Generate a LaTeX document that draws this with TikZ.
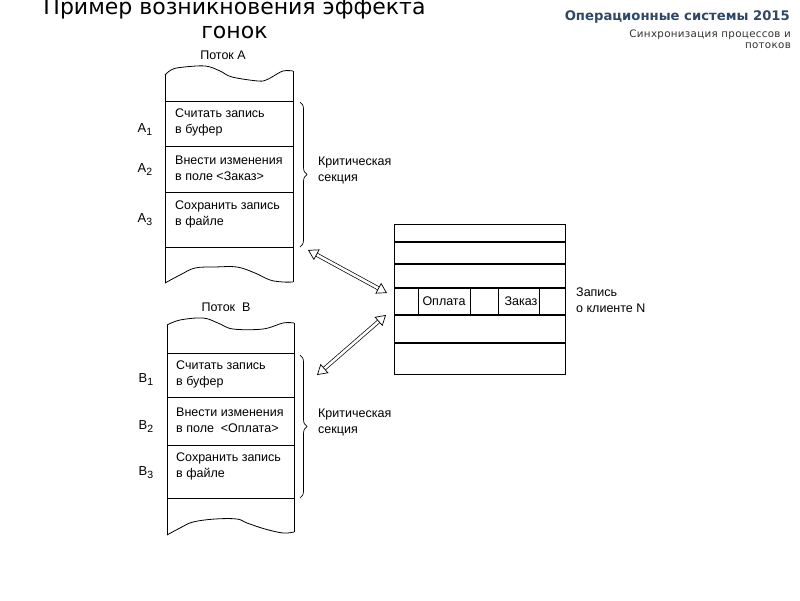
\documentclass[tikz,border=0pt]{standalone}
\usepackage{fontspec}
\setmainfont{Liberation Sans}
\newfontfamily\dejavu{DejaVu Sans}
\newfontfamily\dejavuls[LetterSpace=3]{DejaVu Sans}
\usetikzlibrary{arrows.meta,decorations.pathreplacing}
\definecolor{hdrblue}{RGB}{47,72,102}
\definecolor{hdrgray}{RGB}{50,50,50}
\begin{document}
\begin{tikzpicture}[x=1pt,y=-1pt,
  cell/.style={font=\fontsize{12.5}{16}\selectfont, align=left, anchor=west, inner sep=0pt},
  lbl/.style={font=\fontsize{13}{14}\selectfont, inner sep=0pt},
  captxt/.style={font=\fontsize{12.5}{13}\selectfont, inner sep=0pt},
  frame/.style={line width=0.8pt},
  brc/.style={decorate, decoration={brace, amplitude=7pt}, line width=0.7pt},
  dbl/.style={double, double distance=2.6pt, line width=0.7pt,
    {Triangle[open,length=10pt,width=12pt]}-{Triangle[open,length=10pt,width=12pt]}}
]
\path[use as bounding box] (0,0) rectangle (800,600);
\fill[white] (0,0) rectangle (800,600);

% Title and header
\node[font=\dejavu\fontsize{22}{24}\selectfont, anchor=base, inner sep=0pt] (t1) at (234.5,14) {Пример возникновения эффекта};
\node[font=\dejavu\fontsize{22}{24}\selectfont, anchor=base, inner sep=0pt] (t2) at (234.5,38) {гонок};
\node[font=\dejavu\bfseries\fontsize{13.2}{16}\selectfont, text=hdrblue, anchor=base east, inner sep=0pt] (h1) at (790,20) {Операционные системы 2015};
\node[font=\dejavuls\fontsize{10.3}{11}\selectfont, text=hdrgray, anchor=base east, inner sep=0pt] (h2) at (791,37) {Синхронизация процессов и};
\node[font=\dejavuls\fontsize{10.3}{11}\selectfont, text=hdrgray, anchor=base east, inner sep=0pt] (h3) at (791,48) {потоков};

% Thread A
\node[captxt] (pa) at (223,55) {Поток А};
\draw[frame] (165,283) -- (165,75);
\draw[frame] (293,71) -- (293,282);
\draw[frame] plot[smooth, tension=0.6] coordinates {(165,75)(171,70)(180,67.5)(205,66)(220,71)(232,77)(258,81)(266,80)(272,77)(283,71)(293,71)};
\draw[frame] plot[smooth, tension=0.6] coordinates {(165,283)(180,275)(195,268)(215,267)(237,267)(255,273)(270,280)(283,282)(293,282)};
\foreach \yy in {101,146,192,247} \draw[frame] (165,\yy) -- (293,\yy);
\node[cell] (ca1) at (175,122) {Считать запись\\в буфер};
\node[cell] (ca2) at (175,168) {Внести изменения\\в поле <Заказ>};
\node[cell] (ca3) at (175,214.5) {Сохранить запись\\в файле};
\node[lbl] (la1) at (145,130) {A\raisebox{-3pt}{\fontsize{10.5}{10}\selectfont 1}};
\node[lbl] (la2) at (145,170) {A\raisebox{-3pt}{\fontsize{10.5}{10}\selectfont 2}};
\node[lbl] (la3) at (145,220) {A\raisebox{-3pt}{\fontsize{10.5}{10}\selectfont 3}};
\draw[brc] (300,102) -- (300,247);
\node[cell] (ka) at (318,170) {Критическая\\секция};

% Thread B
\node[captxt] (pb) at (226,307) {Поток\ \ В};
\draw[frame] (167,535) -- (167,325);
\draw[frame] (294,323) -- (294,532);
\draw[frame] plot[smooth, tension=0.6] coordinates {(167,325)(180,320)(203,318)(218,323)(233,329)(263,329)(283,323)(294,323)};
\draw[frame] plot[smooth, tension=0.6] coordinates {(167,535)(180,528)(193,522)(215,519)(237,519)(247,523)(265,529)(283,533)(294,532)};
\foreach \yy in {353,397,445,498} \draw[frame] (167,\yy) -- (294,\yy);
\node[cell] (cb1) at (176,374) {Считать запись\\в буфер};
\node[cell] (cb2) at (176,420.5) {Внести изменения\\в поле \ <Оплата>};
\node[cell] (cb3) at (176,466.5) {Сохранить запись\\в файле};
\node[lbl] (lb1) at (146,380) {B\raisebox{-3pt}{\fontsize{10.5}{10}\selectfont 1}};
\node[lbl] (lb2) at (146,427) {B\raisebox{-3pt}{\fontsize{10.5}{10}\selectfont 2}};
\node[lbl] (lb3) at (146,473) {B\raisebox{-3pt}{\fontsize{10.5}{10}\selectfont 3}};
\draw[brc] (300,355) -- (300,498);
\node[cell] (kb) at (318,422) {Критическая\\секция};

% Record
\draw[frame] (394,224) rectangle (565,374);
\foreach \yy in {242,264,288,315,343} \draw[line width=1.1pt] (394,\yy) -- (565,\yy);
\foreach \xx in {418,470,498,539} \draw[frame] (\xx,288) -- (\xx,315);
\node[captxt] (op) at (444,301.5) {Оплата};
\node[captxt] (zk) at (521,301.5) {Заказ};
\node[cell] (zap) at (576,300) {Запись\\о клиенте N};

% Arrows
\coordinate (a1s) at (308,250);
\coordinate (a1e) at (387,293);
\coordinate (a2s) at (317,375);
\coordinate (a2e) at (386,315);
\draw[dbl] (a1s) -- (a1e);
\draw[dbl] (a2s) -- (a2e);
\end{tikzpicture}
\end{document}
